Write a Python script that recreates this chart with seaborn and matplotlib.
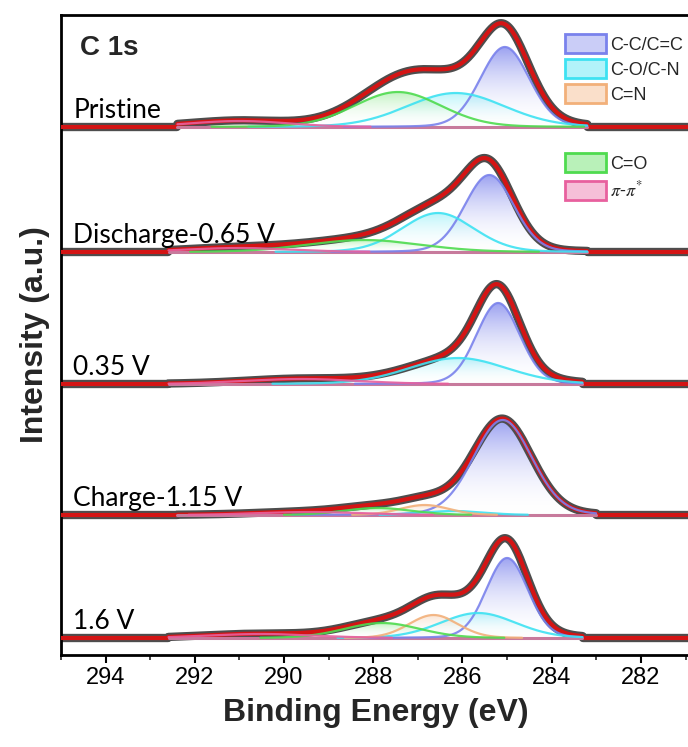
import numpy as np
import pandas as pd
import matplotlib
matplotlib.use("Agg")
import matplotlib.pyplot as plt
from matplotlib.colors import LinearSegmentedColormap, to_rgb
from matplotlib.patches import Patch
from matplotlib.ticker import MultipleLocator
import seaborn as sns

# Spectra stacked from top to bottom, with their vertical offsets (a.u.)
samples = ["Pristine", "Discharge-0.65 V", "0.35 V", "Charge-1.15 V", "1.6 V"]
offsets = [528, 403, 271, 140, 17]

# Fitted components
components = ["C-C/C=C", "C-O/C-N", "C=N", "C=O", r"$\pi$-$\pi^{*}$"]
comp_colors = ["#7a82ec", "#3ee2f2", "#f2b07a", "#4fdb4f", "#e8609e"]
fill_alpha = [0.75, 0.35, 0.35, 0.35, 0.45]

# Peak parameters, one row per sample, columns follow `components`
peak_center = [
    [285.05, 286.15, 286.80, 287.45, 291.00],  # Pristine
    [285.40, 286.55, 286.80, 288.20, 291.00],  # Discharge-0.65 V
    [285.20, 286.10, 286.80, 288.00, 289.60],  # 0.35 V
    [285.10, 286.20, 286.85, 287.90, 289.40],  # Charge-1.15 V
    [285.00, 285.65, 286.65, 287.80, 290.50],  # 1.6 V
]
peak_height = [
    [80, 34, 0, 35, 6],
    [77, 39, 0, 12, 4],
    [81, 26, 0, 0, 5],
    [95, 4, 10, 7, 3],
    [80, 25, 23, 15, 4],
]
peak_fwhm = [
    [1.30, 2.60, 1.30, 2.30, 2.60],
    [1.30, 1.90, 1.30, 3.00, 2.80],
    [1.15, 2.60, 1.30, 2.00, 3.00],
    [1.55, 1.60, 1.30, 1.80, 2.80],
    [1.10, 2.00, 1.30, 2.00, 2.80],
]
# Binding-energy window of each fit
fit_window = [(283.2, 292.4), (283.2, 292.6), (283.3, 292.6), (283.0, 292.4), (283.3, 292.6)]

x_ticks = [294, 292, 290, 288, 286, 284, 282]


def gl_peak(x, center, height, fwhm, lor=0.1):
    d = (x - center) / fwhm
    g = np.exp(-4 * np.log(2) * d ** 2)
    l = 1.0 / (1 + 4 * d ** 2)
    return height * ((1 - lor) * g + lor * l)


sns.set_theme(style="ticks")
plt.rcParams["font.family"] = ["Liberation Sans", "DejaVu Sans"]
plt.rcParams["mathtext.fontset"] = "stix"

fig = plt.figure(figsize=(6.88, 7.47), dpi=100)
ax = fig.add_axes([61 / 688, 1 - 655 / 747, 629 / 688, 640 / 747])

energy = np.linspace(280.9, 295.0, 1200)
grad = np.linspace(0, 1, 256).reshape(-1, 1)
cmaps = []
for c, a in zip(comp_colors, fill_alpha):
    r, g, b = to_rgb(c)
    cmaps.append(LinearSegmentedColormap.from_list("", [(1, 1, 1, 0.0), (r, g, b, a)]))

for i, name in enumerate(samples):
    base = offsets[i]
    lo, hi = fit_window[i]
    total = np.zeros_like(energy)
    curves = []
    for j in range(len(components)):
        h = peak_height[i][j]
        if h <= 0:
            continue
        y = gl_peak(energy, peak_center[i][j], h, peak_fwhm[i][j])
        y = np.where((energy >= lo) & (energy <= hi), y, 0.0)
        total += y
        poly = ax.fill_between(energy, base, base + y, facecolor="none", edgecolor="none")
        img = ax.imshow(grad, extent=[energy.min(), energy.max(), base, base + h],
                        origin="lower", aspect="auto", cmap=cmaps[j], zorder=1,
                        interpolation="bilinear")
        img.set_clip_path(poly.get_paths()[0], transform=ax.transData)
        curves.append((j, y))

    df = pd.DataFrame({"energy": energy, "intensity": base + total})
    # measured data and the envelope of the fit
    sns.lineplot(data=df, x="energy", y="intensity", ax=ax, color="#4d4d4d",
                 linewidth=6.0, zorder=2)
    sns.lineplot(data=df, x="energy", y="intensity", ax=ax, color="#d41414",
                 linewidth=3.0, zorder=3)

    # background line inside the fit window
    win = (energy >= lo) & (energy <= hi)
    ax.plot(energy[win], np.full(win.sum(), base), color="#c77a9c", lw=2.2, zorder=4)

    for j, y in curves:
        yy = np.where(y > 0.25, base + y, np.nan)
        ax.plot(energy, yy, color=comp_colors[j], lw=1.6, alpha=0.9, zorder=5)

    ax.text(294.72, base + 9, name, fontsize=19, family=["Lato", "DejaVu Sans"],
            ha="left", va="baseline", color="black", zorder=6)

ax.text(294.57, 600, "C 1s", fontsize=20, fontweight="bold", ha="left",
        va="baseline", zorder=6)

ax.set_xlim(295.0, 280.9)
ax.set_ylim(0, 640)
ax.xaxis.set_major_locator(MultipleLocator(2))
ax.xaxis.set_minor_locator(MultipleLocator(1))
ax.set_xticks(x_ticks)
ax.set_yticks([])
ax.tick_params(axis="x", which="major", direction="out", length=6, width=1.5,
               labelsize=17, pad=3, colors="black")
ax.tick_params(axis="x", which="minor", direction="out", length=3.5, width=1.2)
for s in ax.spines.values():
    s.set_linewidth(2)
    s.set_color("black")

ax.set_xlabel("Binding Energy (eV)", fontsize=23, fontweight="bold", labelpad=6)
ax.set_ylabel("Intensity (a.u.)", fontsize=23, fontweight="bold", labelpad=8)


def handles(idx):
    out = []
    for j in idx:
        r, g, b = to_rgb(comp_colors[j])
        light = (1 - 0.4 * (1 - r), 1 - 0.4 * (1 - g), 1 - 0.4 * (1 - b))
        out.append(Patch(facecolor=light, edgecolor=comp_colors[j], linewidth=2,
                         label=components[j]))
    return out


leg_kw = dict(frameon=False, borderpad=0, borderaxespad=0, handlelength=2.3,
              handleheight=1.25, handletextpad=0.2, labelspacing=0.3, loc="upper left",
              prop={"family": ["Liberation Sans", "DejaVu Sans"], "size": 13})
leg1 = ax.legend(handles=handles([0, 1, 2]), bbox_to_anchor=(0.801, 0.97), **leg_kw)
ax.add_artist(leg1)
leg_kw2 = dict(leg_kw)
leg_kw2["labelspacing"] = 0.42
ax.legend(handles=handles([3, 4]), bbox_to_anchor=(0.801, 0.784), **leg_kw2)

fig.savefig("out.png", dpi=100)
